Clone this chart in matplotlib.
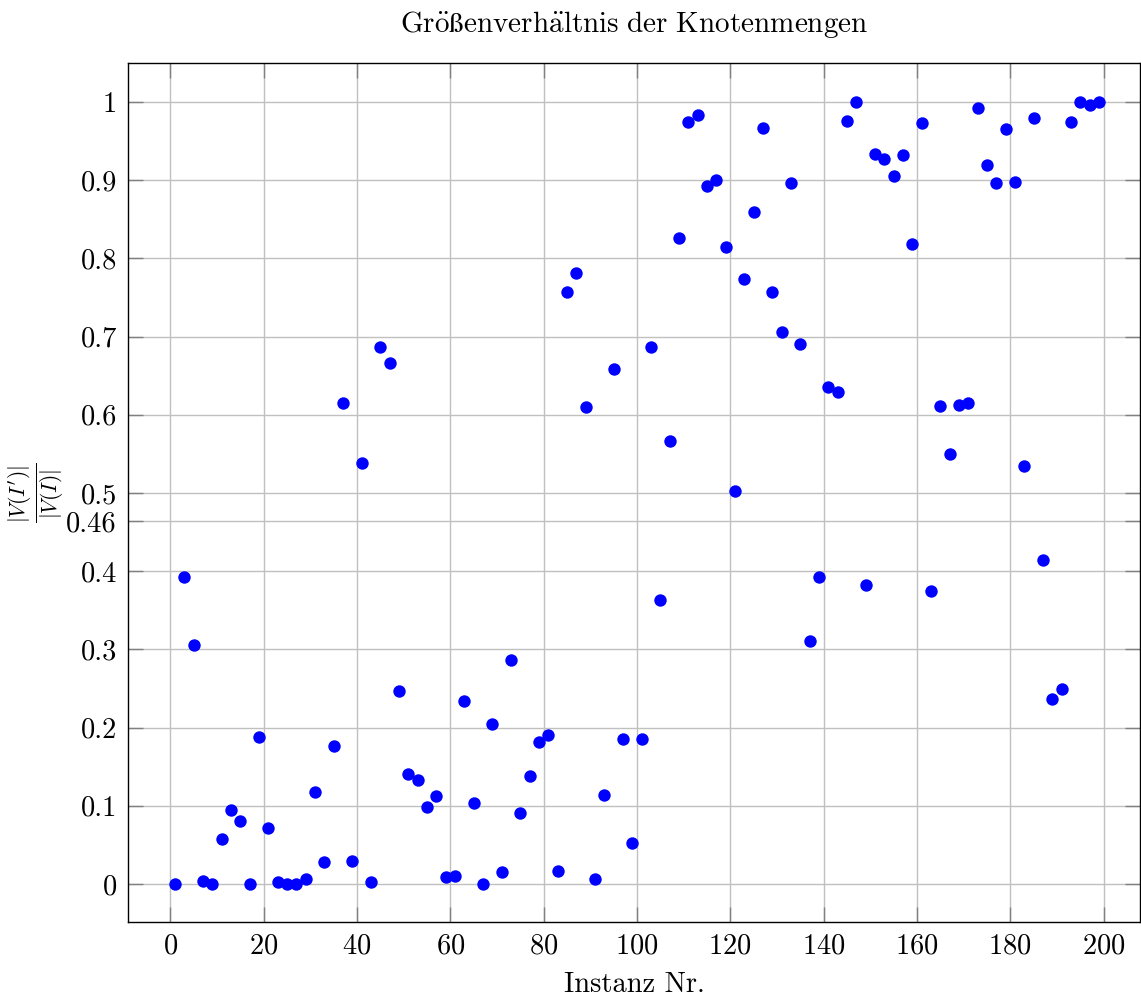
import numpy as np
import matplotlib
matplotlib.use("Agg")
import matplotlib.pyplot as plt

# Instanz-Nummern (ungerade 1..199) und Verhältnis |V(I')| / |V(I)|
instanz = list(range(1, 200, 2))
verhaeltnis = [
    0.000, 0.392, 0.306, 0.004, 0.000, 0.057, 0.095, 0.081, 0.000, 0.188,
    0.072, 0.002, 0.000, 0.000, 0.007, 0.117, 0.028, 0.176, 0.615, 0.029,
    0.538, 0.002, 0.687, 0.666, 0.247, 0.141, 0.133, 0.099, 0.113, 0.009,
    0.010, 0.234, 0.103, 0.000, 0.204, 0.015, 0.286, 0.091, 0.138, 0.182,
    0.191, 0.016, 0.757, 0.781, 0.610, 0.007, 0.114, 0.659, 0.185, 0.053,
    0.185, 0.687, 0.363, 0.566, 0.826, 0.974, 0.983, 0.893, 0.900, 0.815,
    0.503, 0.774, 0.859, 0.967, 0.757, 0.706, 0.897, 0.691, 0.311, 0.392,
    0.636, 0.629, 0.976, 1.000, 0.382, 0.934, 0.927, 0.905, 0.932, 0.818,
    0.973, 0.375, 0.611, 0.550, 0.613, 0.615, 0.993, 0.919, 0.897, 0.965,
    0.898, 0.535, 0.980, 0.414, 0.237, 0.249, 0.975, 1.000, 0.996, 1.000,
]
x_ticks = [0, 20, 40, 60, 80, 100, 120, 140, 160, 180, 200]
y_ticks = [0, 0.1, 0.2, 0.3, 0.4, 0.5, 0.6, 0.7, 0.8, 0.9, 1.0]

plt.rcParams['font.family'] = ['cmr10', 'DejaVu Serif']
plt.rcParams['mathtext.fontset'] = 'cm'
plt.rcParams['axes.formatter.use_mathtext'] = True

fig = plt.figure(figsize=(11.41, 9.99), dpi=100)
ax = fig.add_axes([0.1122, 0.0771, 0.8869, 0.8598])

ax.scatter(instanz, verhaeltnis, s=80, color='#0000ff', zorder=3, linewidths=0)

# Mittelwert als zusätzlicher Tick
mittel = np.mean(verhaeltnis)
yt = sorted(y_ticks + [mittel])
ax.set_yticks(yt)
ax.set_yticklabels(['0' if v == 0 else ('1' if v == 1 else f'{v:.2f}'.rstrip('0')) for v in yt])
ax.set_xticks(x_ticks)

ax.set_xlim(-9.06, 207.8)
ax.set_ylim(-0.0486, 1.0499)

ax.grid(True, color='#c0c0c0', linewidth=1.0, zorder=0)
ax.set_axisbelow(True)
ax.tick_params(direction='in', length=11, width=1, color='#808080',
               top=True, right=True, labelsize=20.5, pad=8)
for sp in ax.spines.values():
    sp.set_linewidth(1.0)

ax.set_xlabel('Instanz Nr.', fontsize=20.5, labelpad=9)
ax.set_ylabel(r"$\frac{|V(I')|}{|V(I)|}$", fontsize=22, labelpad=0)
ax.set_title(r'$\mathrm{Gr\ddot{o}\ss enverh\ddot{a}ltnis\ der\ Knotenmengen}$',
             fontsize=21, pad=22)

fig.savefig('out.png', dpi=100)
